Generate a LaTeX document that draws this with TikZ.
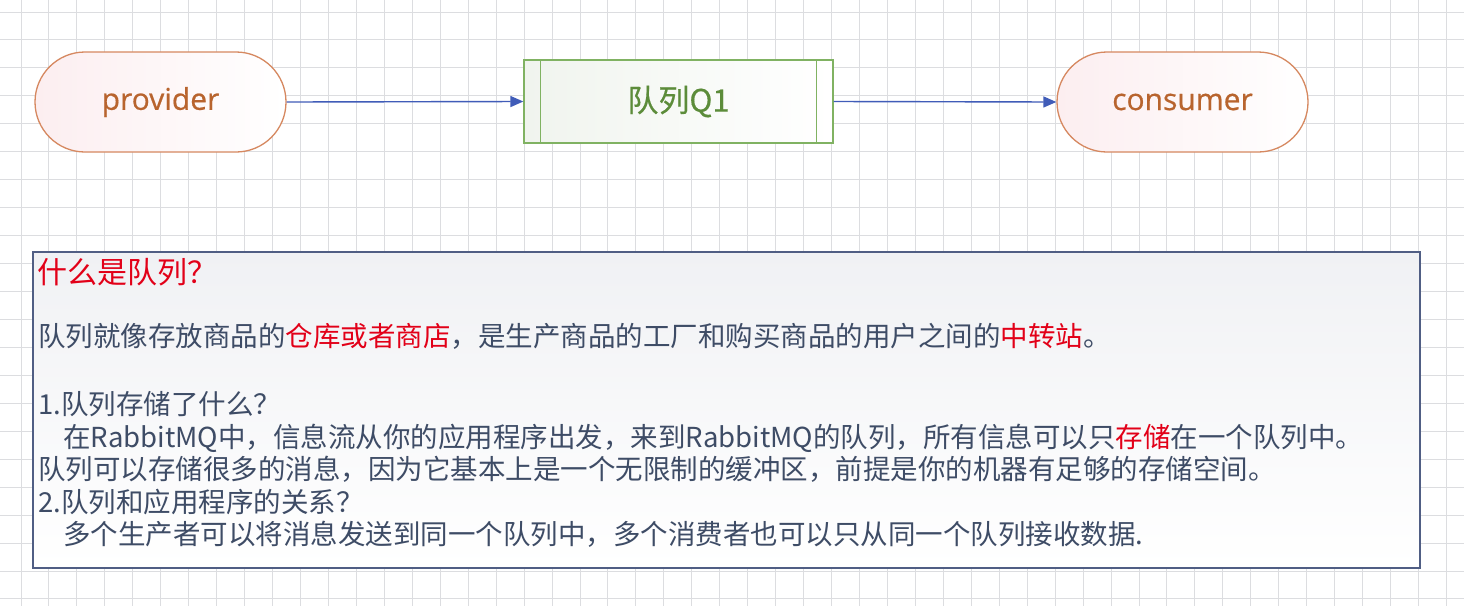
\documentclass[tikz,border=0pt]{standalone}
\usepackage{fontspec}
\setmainfont{Noto Sans CJK SC}
\newfontfamily\latinsans[FakeBold=0.6]{Open Sans}
\newfontfamily\qfont[FakeBold=0.4]{Noto Sans CJK SC}
\usetikzlibrary{arrows.meta,shapes.misc}
\definecolor{gridc}{RGB}{220,221,224}
\definecolor{termborder}{RGB}{214,136,96}
\definecolor{termtext}{RGB}{184,100,46}
\definecolor{termfill}{RGB}{252,238,240}
\definecolor{qborder}{RGB}{128,178,98}
\definecolor{qtext}{RGB}{92,140,58}
\definecolor{qfill}{RGB}{240,244,238}
\definecolor{arrowc}{RGB}{64,92,184}
\definecolor{boxborder}{RGB}{80,94,132}
\definecolor{boxfill}{RGB}{240,241,244}
\definecolor{bodytext}{RGB}{62,76,102}
\definecolor{hired}{RGB}{226,0,24}
\tikzset{
  gridline/.style={draw=gridc, line width=1pt},
  term/.style={rounded rectangle, draw=termborder, line width=1.3pt,
    left color=termfill, right color=white, minimum width=251pt, minimum height=100pt,
    text=termtext, font=\latinsans\fontsize{30}{36}\selectfont, inner sep=0pt},
  queuebox/.style={rectangle, draw=qborder, line width=1.3pt,
    left color=qfill, right color=white, minimum width=309pt, minimum height=83pt,
    text=qtext, font=\qfont\fontsize{31}{37}\selectfont, inner sep=0pt},
  flow/.style={draw=arrowc, line width=1.4pt, -{Triangle[length=13pt,width=11pt]}},
  infobox/.style={rectangle, draw=boxborder, line width=1.5pt,
    top color=boxfill, bottom color=white, minimum width=1387pt, minimum height=316pt, inner sep=0pt},
  bodyline/.style={anchor=base west, inner sep=0pt, text=bodytext,
    font=\fontsize{27.5}{33}\selectfont},
  titleline/.style={anchor=base west, inner sep=0pt, text=hired,
    font=\fontsize{30}{36}\selectfont}
}
\begin{document}
\begin{tikzpicture}[x=1pt,y=-1pt]
\useasboundingbox (0,0) rectangle (1464,606);
\fill[white] (0,0) rectangle (1464,606);
% grid
\foreach \i in {0,...,51} \draw[gridline] ({21+27.95*\i},0) -- ({21+27.95*\i},606);
\foreach \j in {0,...,21} \draw[gridline] (0,{12+27.95*\j}) -- (1464,{12+27.95*\j});
% top flow
\node[term] (prov) at (160.5,102) {provider};
\node[queuebox] (q) at (678.5,101.5) {队列Q1};
\draw[draw=qborder, line width=1.3pt] ([xshift=17pt]q.north west) -- ([xshift=17pt]q.south west);
\draw[draw=qborder, line width=1.3pt] ([xshift=-17pt]q.north east) -- ([xshift=-17pt]q.south east);
\node[term] (cons) at (1182.5,102) {consumer};
\draw[flow] (prov.east) -- (q.west);
\draw[flow] (q.east) -- (cons.west);
% info box
\node[infobox] (info) at (726.5,410) {};
\node[titleline] (t0) at (37,283) {什么是队列？};
\node[bodyline] (t1) at (38,346.5) {队列就像存放商品的\textcolor{hired}{仓库或者商店}，是生产商品的工厂和购买商品的用户之间的\textcolor{hired}{中转站}。};
\node[bodyline] (t2) at (38,414.5) {1.队列存储了什么？};
\node[bodyline] (t3) at (63,447) {在RabbitMQ中，信息流从你的应用程序出发，来到RabbitMQ的队列，所有信息可以只\textcolor{hired}{存储}在一个队列中。};
\node[bodyline] (t4) at (38,479.5) {队列可以存储很多的消息，因为它基本上是一个无限制的缓冲区，前提是你的机器有足够的存储空间。};
\node[bodyline] (t5) at (38,512) {2.队列和应用程序的关系？};
\node[bodyline] (t6) at (63,544.5) {多个生产者可以将消息发送到同一个队列中，多个消费者也可以只从同一个队列接收数据.};
\end{tikzpicture}
\end{document}
